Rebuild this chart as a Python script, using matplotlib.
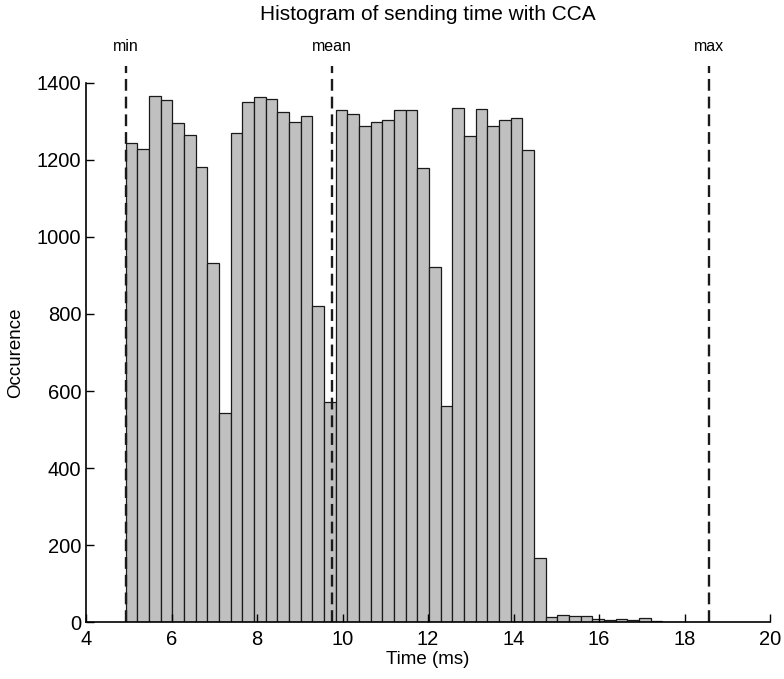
import numpy as np
import matplotlib
matplotlib.use('Agg')
import matplotlib.pyplot as plt

plt.rcParams['font.family'] = ['Liberation Sans', 'DejaVu Sans']

# Summary statistics of the sending time (ms)
t_min = 4.929
t_mean = 9.747
t_max = 18.573

# Occurrence count in each of the 50 bins between min and max
counts = [1243, 1228, 1367, 1355, 1295, 1264, 1181, 932, 542, 1271,
          1350, 1363, 1358, 1324, 1299, 1313, 822, 572, 1329, 1320,
          1289, 1299, 1303, 1330, 1330, 1178, 922, 561, 1334, 1263,
          1332, 1288, 1303, 1309, 1226, 167, 12, 17, 16, 15,
          9, 6, 7, 4, 10, 2, 1, 1, 0, 1]

stat_names = ['min', 'mean', 'max']
stat_values = [t_min, t_mean, t_max]

edges = np.linspace(t_min, t_max, len(counts) + 1)
width = edges[1] - edges[0]

fig = plt.figure(figsize=(7.84, 6.79), dpi=100)
ax = fig.add_axes([0.1097, 0.0839, 0.8725, 0.7939])

ax.bar(edges[:-1], counts, width=width, align='edge', color='#c0c0c0',
       edgecolor='#1a1a1a', linewidth=0.9)

# dashed markers for min / mean / max, running above the axes
for name, v in zip(stat_names, stat_values):
    ax.plot([v, v], [0, 1445], color='#1a1a1a', linestyle='--',
            linewidth=1.7, dashes=(5, 2.5), clip_on=False)
    ax.text(v, 1474, name, ha='center', va='bottom', fontsize=11.5)

ax.set_xlim(4, 20)
ax.set_ylim(0, 1400)
ax.set_xticks([4, 6, 8, 10, 12, 14, 16, 18, 20])
ax.set_yticks([0, 200, 400, 600, 800, 1000, 1200, 1400])
ax.tick_params(direction='in', length=6, labelsize=14.5, width=1)
ax.tick_params(axis='x', pad=6)
for s in ['top', 'right']:
    ax.spines[s].set_visible(False)
for s in ['left', 'bottom']:
    ax.spines[s].set_linewidth(1.2)

ax.set_xlabel('Time (ms)', fontsize=13.5, labelpad=1)
ax.set_ylabel('Occurence', fontsize=13.5, labelpad=9)
fig.text(0.5455, 0.993, 'Histogram of sending time with CCA', ha='center',
         va='top', fontsize=15)

fig.savefig('out.png', dpi=100)
